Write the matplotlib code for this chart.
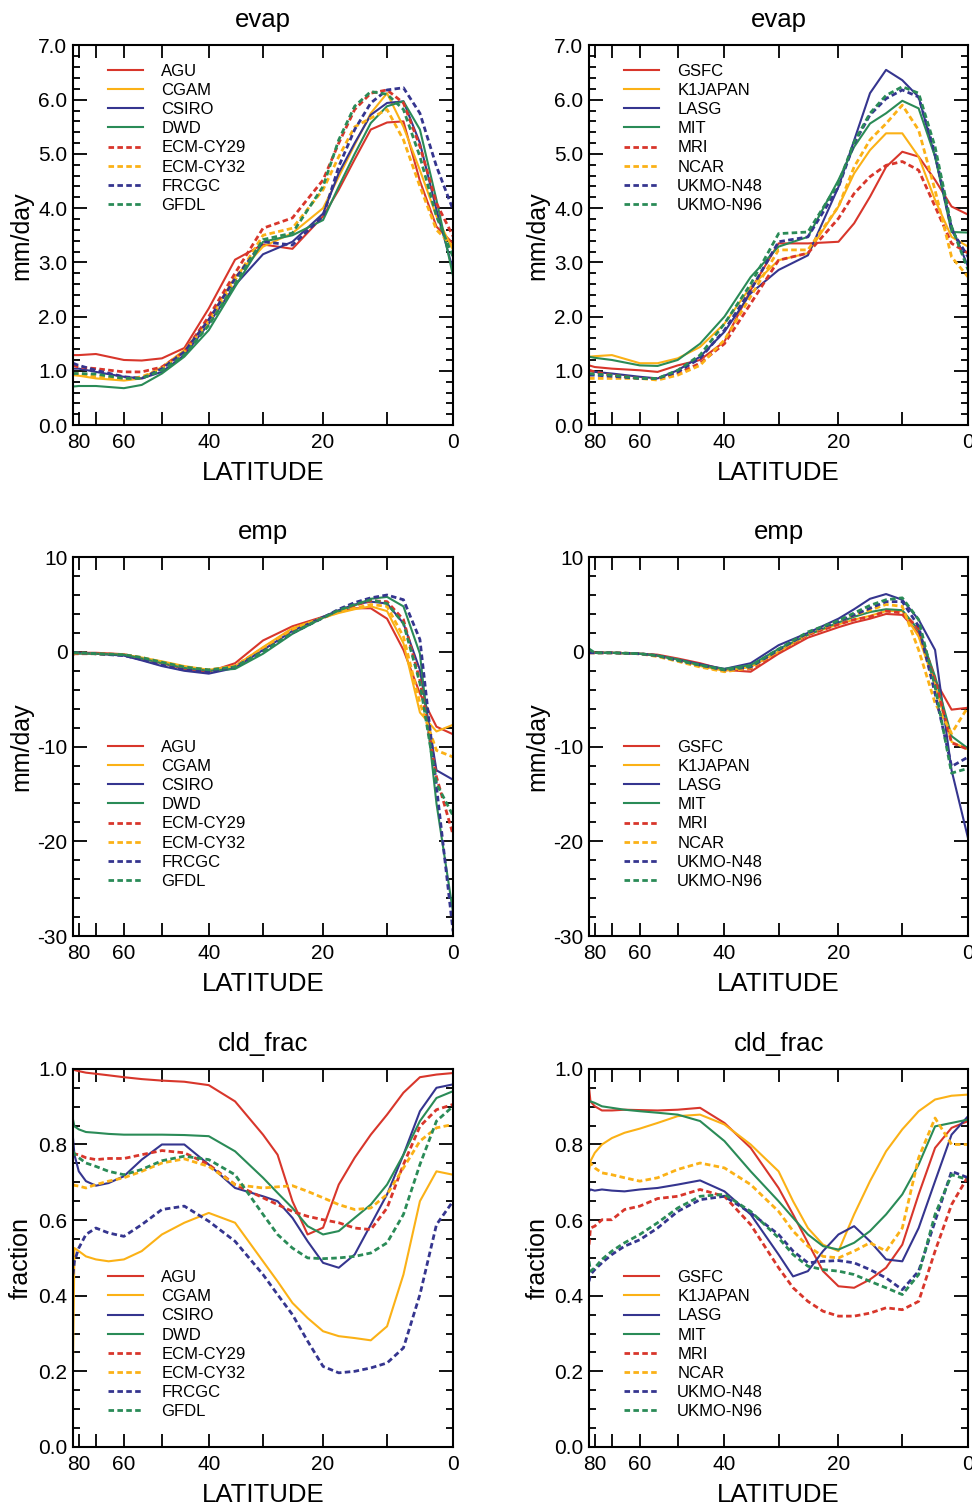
import numpy as np
import matplotlib
matplotlib.use("Agg")
import matplotlib.pyplot as plt
from matplotlib.ticker import MultipleLocator, FixedLocator, FormatStrFormatter

plt.rcParams['font.family'] = ['Liberation Sans', 'DejaVu Sans']
plt.rcParams['axes.unicode_minus'] = False

# latitude grids (deg N)
lat_a = [90, 80, 70, 60, 55, 50, 45, 40, 35, 30, 25, 20, 17.5, 15, 12.5, 10, 7.5, 5, 2.5, 0]
lat_c = [90, 85, 80, 75, 70, 65, 60, 55, 50, 45, 40, 35, 30, 27.5, 25, 22.5, 20, 17.5, 15, 12.5, 10, 7.5, 5, 2.5, 0]

models_left = ["AGU", "CGAM", "CSIRO", "DWD", "ECM-CY29", "ECM-CY32", "FRCGC", "GFDL"]
models_right = ["GSFC", "K1JAPAN", "LASG", "MIT", "MRI", "NCAR", "UKMO-N48", "UKMO-N96"]

# evaporation (mm/day)
evap_left = [
    [1.29, 1.29, 1.31, 1.20, 1.19, 1.23, 1.42, 2.15, 3.05, 3.33, 3.25, 3.85, 4.34, 4.9, 5.45, 5.58, 5.6, 4.5, 3.66, 3.35],
    [0.92, 0.91, 0.86, 0.82, 0.86, 1.07, 1.38, 1.94, 2.73, 3.29, 3.54, 4.0, 4.58, 5.17, 5.75, 6.12, 5.5, 4.7, 3.85, 3.23],
    [1.04, 1.04, 0.98, 0.89, 0.86, 0.98, 1.29, 1.87, 2.58, 3.15, 3.38, 3.9, 4.65, 5.2, 5.72, 5.94, 5.97, 5.2, 3.97, 2.86],
    [0.71, 0.72, 0.72, 0.68, 0.74, 0.95, 1.26, 1.75, 2.55, 3.38, 3.5, 3.78, 4.4, 5.0, 5.57, 5.88, 5.97, 5.45, 4.15, 2.75],
    [1.1, 1.07, 1.04, 0.98, 0.98, 1.07, 1.35, 2.0, 2.8, 3.63, 3.82, 4.52, 5.2, 5.82, 6.12, 6.18, 5.94, 5.14, 4.09, 3.48],
    [0.95, 0.95, 0.89, 0.84, 0.89, 1.04, 1.35, 1.9, 2.67, 3.5, 3.63, 4.34, 4.95, 5.5, 5.66, 5.82, 5.26, 4.4, 3.6, 3.29],
    [1.14, 1.1, 1.01, 0.89, 0.86, 1.04, 1.35, 1.94, 2.7, 3.38, 3.32, 3.85, 4.77, 5.45, 5.94, 6.18, 6.22, 5.75, 4.77, 3.97],
    [0.95, 0.95, 0.94, 0.86, 0.86, 1.01, 1.29, 1.84, 2.6, 3.42, 3.54, 4.4, 5.26, 5.88, 6.15, 6.1, 5.82, 4.95, 3.85, 3.1],
]
evap_right = [
    [1.1, 1.07, 1.04, 1.01, 0.98, 1.1, 1.2, 1.54, 2.49, 3.35, 3.35, 3.38, 3.72, 4.21, 4.76, 5.04, 4.95, 4.52, 4.03, 3.88],
    [1.26, 1.27, 1.29, 1.14, 1.14, 1.23, 1.44, 1.87, 2.55, 3.04, 3.17, 4.03, 4.64, 5.07, 5.38, 5.38, 4.95, 4.15, 3.47, 3.29],
    [1.01, 0.98, 0.95, 0.89, 0.86, 1.01, 1.26, 1.72, 2.43, 2.86, 3.13, 4.39, 5.25, 6.12, 6.55, 6.36, 6.05, 4.95, 3.66, 2.92],
    [1.26, 1.24, 1.2, 1.1, 1.09, 1.2, 1.5, 2.0, 2.73, 3.29, 3.47, 4.52, 5.13, 5.56, 5.75, 5.98, 5.84, 4.95, 3.56, 3.55],
    [1.01, 0.98, 0.92, 0.86, 0.86, 0.95, 1.14, 1.5, 2.24, 3.04, 3.17, 3.81, 4.27, 4.58, 4.79, 4.86, 4.7, 4.03, 3.35, 3.17],
    [0.86, 0.86, 0.86, 0.86, 0.83, 0.92, 1.1, 1.57, 2.37, 3.23, 3.23, 4.03, 4.76, 5.26, 5.56, 5.9, 5.44, 4.33, 3.1, 2.73],
    [0.92, 0.92, 0.9, 0.86, 0.86, 0.98, 1.23, 1.75, 2.49, 3.38, 3.47, 4.39, 5.19, 5.72, 6.02, 6.18, 6.05, 5.01, 3.6, 3.1],
    [0.95, 0.94, 0.92, 0.86, 0.86, 1.01, 1.29, 1.87, 2.6, 3.53, 3.56, 4.46, 5.22, 5.75, 6.08, 6.24, 6.12, 5.13, 3.66, 2.86],
]

# evaporation minus precipitation (mm/day)
emp_left = [
    [-0.3, -0.1, -0.1, -0.25, -0.7, -1.2, -1.8, -2.1, -1.2, 1.2, 2.7, 3.7, 4.2, 4.6, 4.6, 3.5, 0.2, -4.4, -7.9, -8.7],
    [-0.2, -0.1, -0.2, -0.3, -0.6, -1.0, -1.5, -1.9, -1.5, 0.5, 2.5, 3.6, 4.1, 4.5, 4.8, 4.3, 0.9, -6.4, -8.4, -7.7],
    [-0.1, -0.1, -0.2, -0.4, -0.9, -1.5, -2.0, -2.3, -1.7, 0.2, 2.2, 3.7, 4.4, 5.0, 5.3, 5.1, 3.0, -1.9, -12.5, -13.5],
    [-0.2, -0.2, -0.2, -0.3, -0.7, -1.2, -1.7, -2.0, -1.8, -0.2, 1.9, 3.6, 4.3, 4.9, 5.6, 5.8, 4.8, -0.2, -16.0, -27.5],
    [-0.2, -0.2, -0.2, -0.3, -0.7, -1.2, -1.7, -2.0, -1.5, 0.3, 2.3, 3.6, 4.3, 4.9, 5.4, 5.3, 3.4, -3.0, -13.2, -19.3],
    [-0.2, -0.1, -0.2, -0.3, -0.6, -1.1, -1.6, -1.9, -1.5, 0.4, 2.4, 3.6, 4.2, 4.6, 5.0, 4.8, 1.6, -5.4, -10.4, -11.1],
    [-0.1, -0.1, -0.2, -0.4, -0.8, -1.4, -1.9, -2.1, -1.6, 0.1, 2.0, 3.6, 4.5, 5.2, 5.7, 6.0, 5.5, 1.3, -14.2, -29.5],
    [-0.1, -0.1, -0.2, -0.3, -0.6, -1.1, -1.6, -1.9, -1.6, 0.0, 2.0, 3.6, 4.4, 5.0, 5.5, 5.1, 3.0, -3.3, -13.9, -17.3],
]
emp_right = [
    [-0.1, -0.1, -0.1, -0.2, -0.3, -0.7, -1.2, -1.9, -2.1, -0.2, 1.5, 2.6, 3.1, 3.5, 4.0, 3.9, 2.0, -3.0, -6.1, -5.9],
    [-0.1, -0.1, -0.1, -0.2, -0.4, -0.8, -1.5, -2.0, -1.6, 0.0, 1.8, 2.9, 3.4, 3.8, 4.3, 4.3, 1.6, -3.5, -9.5, -10.3],
    [-0.1, -0.1, -0.1, -0.2, -0.4, -0.8, -1.3, -1.8, -1.2, 0.7, 2.0, 3.5, 4.5, 5.6, 6.1, 5.5, 3.4, 0.2, -12.5, -19.7],
    [-0.1, -0.1, -0.1, -0.2, -0.4, -0.8, -1.4, -1.8, -1.4, 0.3, 1.8, 3.1, 3.7, 4.2, 4.5, 4.4, 2.3, -2.6, -8.9, -10.2],
    [-0.1, -0.1, -0.1, -0.2, -0.4, -0.9, -1.5, -2.0, -1.8, 0.0, 1.8, 2.9, 3.4, 3.7, 4.3, 4.1, 2.5, -3.0, -9.6, -10.3],
    [-0.1, -0.1, -0.1, -0.2, -0.5, -1.0, -1.6, -2.1, -1.7, 0.1, 1.9, 3.2, 3.9, 4.4, 5.0, 4.8, 0.2, -5.4, -8.6, -5.8],
    [-0.1, -0.1, -0.1, -0.2, -0.4, -0.9, -1.4, -1.9, -1.6, 0.2, 2.0, 3.2, 3.9, 4.6, 5.3, 5.3, 2.7, -4.4, -12.1, -11.1],
    [0.3, -0.1, -0.1, -0.2, -0.4, -0.9, -1.4, -1.9, -1.5, 0.3, 2.1, 3.3, 4.1, 4.9, 5.5, 5.7, 3.4, -3.7, -12.8, -12.3],
]

# cloud fraction
cld_left = [
    [0.998, 0.997, 0.994, 0.99, 0.987, 0.983, 0.978, 0.973, 0.969, 0.966, 0.957, 0.914, 0.826, 0.773, 0.65, 0.562, 0.58, 0.694, 0.765, 0.826, 0.879, 0.937, 0.978, 0.985, 0.989],
    [0.22, 0.526, 0.518, 0.504, 0.496, 0.491, 0.496, 0.518, 0.562, 0.593, 0.619, 0.593, 0.491, 0.438, 0.381, 0.341, 0.306, 0.293, 0.288, 0.282, 0.319, 0.456, 0.65, 0.729, 0.72],
    [0.817, 0.773, 0.729, 0.703, 0.691, 0.698, 0.716, 0.76, 0.8, 0.8, 0.747, 0.685, 0.663, 0.65, 0.606, 0.544, 0.487, 0.474, 0.509, 0.588, 0.668, 0.773, 0.888, 0.95, 0.959],
    [0.866, 0.848, 0.84, 0.833, 0.831, 0.828, 0.826, 0.826, 0.826, 0.825, 0.822, 0.782, 0.712, 0.672, 0.632, 0.584, 0.562, 0.571, 0.606, 0.641, 0.694, 0.773, 0.862, 0.923, 0.941],
    [0.778, 0.775, 0.773, 0.765, 0.76, 0.763, 0.763, 0.773, 0.784, 0.778, 0.747, 0.694, 0.659, 0.641, 0.623, 0.61, 0.601, 0.593, 0.579, 0.575, 0.632, 0.747, 0.848, 0.892, 0.906],
    [0.694, 0.692, 0.69, 0.685, 0.694, 0.703, 0.712, 0.729, 0.751, 0.762, 0.742, 0.694, 0.685, 0.688, 0.691, 0.676, 0.659, 0.641, 0.628, 0.632, 0.668, 0.738, 0.809, 0.844, 0.853],
    [0.456, 0.491, 0.526, 0.562, 0.579, 0.566, 0.557, 0.588, 0.628, 0.637, 0.597, 0.544, 0.456, 0.403, 0.35, 0.28, 0.213, 0.196, 0.2, 0.209, 0.222, 0.262, 0.403, 0.588, 0.65],
    [0.782, 0.775, 0.765, 0.751, 0.742, 0.729, 0.72, 0.734, 0.757, 0.769, 0.76, 0.72, 0.615, 0.562, 0.526, 0.5, 0.498, 0.5, 0.504, 0.513, 0.54, 0.615, 0.747, 0.862, 0.901],
]
cld_right = [
    [0.95, 0.914, 0.901, 0.89, 0.89, 0.892, 0.891, 0.89, 0.892, 0.897, 0.857, 0.791, 0.685, 0.615, 0.54, 0.465, 0.425, 0.421, 0.443, 0.474, 0.535, 0.668, 0.791, 0.844, 0.862],
    [0.729, 0.756, 0.778, 0.8, 0.817, 0.831, 0.842, 0.857, 0.875, 0.879, 0.853, 0.8, 0.729, 0.65, 0.579, 0.535, 0.518, 0.615, 0.703, 0.782, 0.84, 0.888, 0.919, 0.929, 0.932],
    [0.676, 0.681, 0.678, 0.681, 0.678, 0.676, 0.681, 0.685, 0.694, 0.705, 0.676, 0.615, 0.509, 0.451, 0.465, 0.518, 0.562, 0.584, 0.544, 0.496, 0.491, 0.579, 0.703, 0.826, 0.875],
    [0.914, 0.914, 0.91, 0.901, 0.897, 0.892, 0.888, 0.884, 0.879, 0.862, 0.809, 0.729, 0.65, 0.606, 0.562, 0.531, 0.522, 0.54, 0.571, 0.615, 0.668, 0.747, 0.848, 0.857, 0.866],
    [0.535, 0.579, 0.584, 0.601, 0.601, 0.628, 0.637, 0.657, 0.663, 0.681, 0.663, 0.588, 0.474, 0.421, 0.385, 0.359, 0.346, 0.346, 0.354, 0.368, 0.363, 0.385, 0.518, 0.641, 0.716],
    [0.756, 0.751, 0.738, 0.725, 0.72, 0.712, 0.703, 0.712, 0.734, 0.751, 0.738, 0.694, 0.623, 0.571, 0.531, 0.504, 0.5, 0.518, 0.54, 0.518, 0.579, 0.765, 0.87, 0.8, 0.8],
    [0.438, 0.456, 0.469, 0.487, 0.509, 0.531, 0.548, 0.579, 0.623, 0.654, 0.663, 0.619, 0.562, 0.518, 0.487, 0.491, 0.493, 0.487, 0.469, 0.447, 0.416, 0.465, 0.597, 0.729, 0.712],
    [0.491, 0.465, 0.474, 0.496, 0.518, 0.54, 0.562, 0.593, 0.632, 0.663, 0.668, 0.623, 0.553, 0.509, 0.478, 0.469, 0.465, 0.456, 0.438, 0.421, 0.403, 0.456, 0.615, 0.72, 0.707],
]

colors = ['#d8362b', '#fbb116', '#35358f', '#2a8b57']


def fwd(x):
    return np.sin(np.radians(np.clip(x, -90, 90)))


def inv(y):
    return np.degrees(np.arcsin(np.clip(y, -1, 1)))


def draw_panel(ax, lat, series, names, title, ylabel, ylim, major, minor, fmt, leg_top):
    for i, (vals, name) in enumerate(zip(series, names)):
        c = colors[i % 4]
        if i < 4:
            ax.plot(lat, vals, color=c, lw=1.5, label=name)
        else:
            ax.plot(lat, vals, color=c, lw=2.0, dashes=(2.0, 1.2), label=name)

    ax.set_xscale('function', functions=(fwd, inv))
    ax.set_xlim(90, 0)
    ax.set_ylim(*ylim)
    ax.xaxis.set_major_locator(FixedLocator([80, 60, 40, 20, 0]))
    ax.xaxis.set_minor_locator(FixedLocator([70, 50, 30, 10]))
    ax.xaxis.set_major_formatter(FormatStrFormatter('%d'))
    ax.xaxis.set_minor_formatter(plt.NullFormatter())
    ax.yaxis.set_major_locator(MultipleLocator(major))
    ax.yaxis.set_minor_locator(MultipleLocator(minor))
    ax.yaxis.set_major_formatter(FormatStrFormatter(fmt))

    ax.tick_params(which='both', direction='in', top=True, right=True, width=1.3, labelsize=15)
    ax.tick_params(axis='x', which='both', length=9.5, pad=6)
    ax.tick_params(axis='y', which='major', length=10, pad=4)
    ax.tick_params(axis='y', which='minor', length=5)
    for spine in ax.spines.values():
        spine.set_linewidth(1.5)

    ax.set_title(title, fontsize=18.5, pad=13)
    ax.set_xlabel('LATITUDE', fontsize=18.5)
    ax.xaxis.set_label_coords(0.5, -0.095)
    ax.set_ylabel(ylabel, fontsize=18)
    ax.yaxis.set_label_coords(-0.105, 0.5)

    ax.legend(loc='upper left', bbox_to_anchor=(0.092, leg_top), frameon=False,
              fontsize=12, handlelength=2.1, handletextpad=1.1, labelspacing=0.25,
              borderpad=0, borderaxespad=0)


fig = plt.figure(figsize=(9.72, 15.11), dpi=100)

rows = [0.7187, 0.3805, 0.0424]
heights = [0.2512, 0.2508, 0.2502]
cols = [0.0751, 0.606]
widths = [0.391, 0.390]

panels = [
    (lat_a, evap_left, evap_right, 'evap', 'mm/day', (0, 7), 1.0, 0.2, '%.1f', 0.952),
    (lat_a, emp_left, emp_right, 'emp', 'mm/day', (-30, 10), 10, 2, '%d', 0.518),
    (lat_c, cld_left, cld_right, 'cld_frac', 'fraction', (0, 1), 0.2, 0.05, '%.1f', 0.468),
]

for r, (lat, left, right, title, ylabel, ylim, major, minor, fmt, leg_top) in enumerate(panels):
    for c, (series, names) in enumerate([(left, models_left), (right, models_right)]):
        ax = fig.add_axes([cols[c], rows[r], widths[c], heights[r]])
        draw_panel(ax, lat, series, names, title, ylabel, ylim, major, minor, fmt, leg_top)

fig.savefig('out.png', dpi=100)
